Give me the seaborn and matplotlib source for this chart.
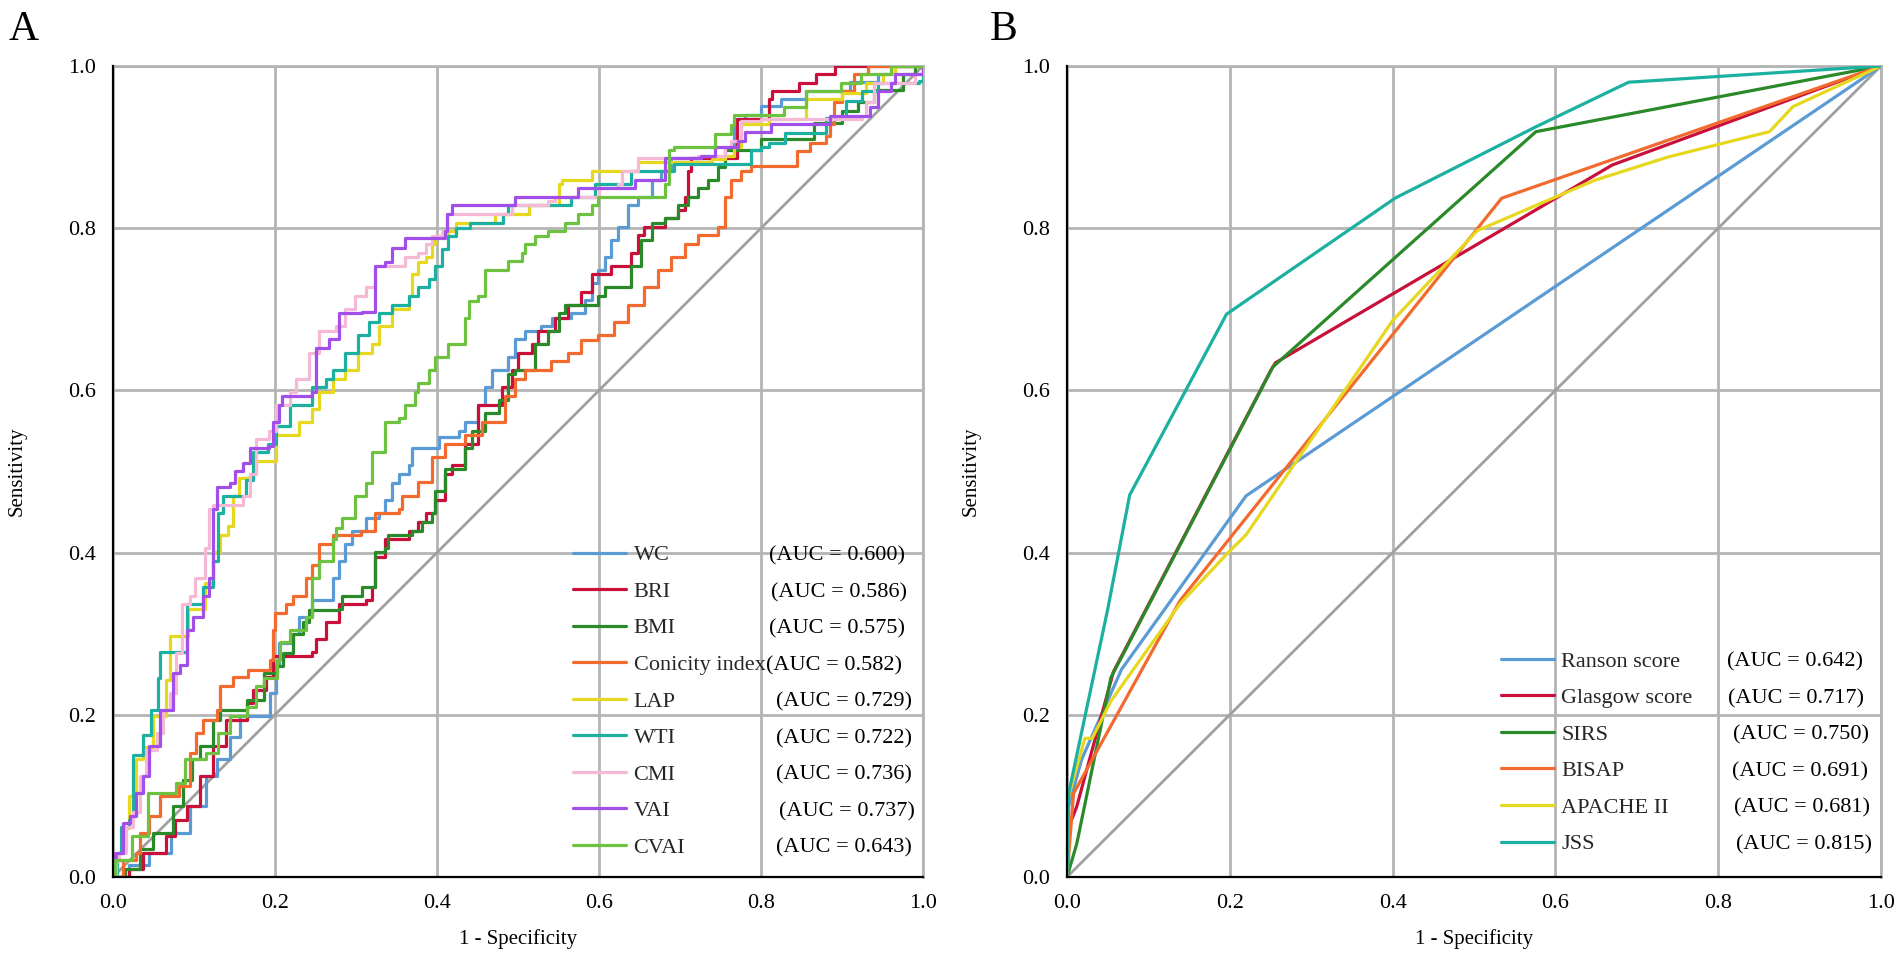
import matplotlib
matplotlib.use("Agg")
import matplotlib.pyplot as plt
import seaborn as sns
import pandas as pd

# ---------------- Panel A data ----------------
A_NAMES = ["WC", "BRI", "BMI", "Conicity index", "LAP", "WTI", "CMI", "VAI", "CVAI"]
A_AUC = ["(AUC = 0.600)", "(AUC = 0.586)", "(AUC = 0.575)", "(AUC = 0.582)", "(AUC = 0.729)",
         "(AUC = 0.722)", "(AUC = 0.736)", "(AUC = 0.737)", "(AUC = 0.643)"]
A_COLORS = ["#5B9BD5", "#C8103A", "#2A8A2A", "#F26A2E", "#E6D81E", "#1BB0A0", "#F5B8D5", "#A14FE8", "#6DC23F"]

WC_FPR = [0, 0.02, 0.045, 0.072, 0.095, 0.115, 0.128, 0.144, 0.157, 0.194, 0.201, 0.205, 0.222, 0.230, 0.246,
          0.271, 0.279, 0.287, 0.295, 0.312, 0.328, 0.336, 0.344, 0.353, 0.365, 0.369, 0.402, 0.427, 0.435,
          0.451, 0.459, 0.468, 0.488, 0.496, 0.509, 0.529, 0.542, 0.566, 0.583, 0.591, 0.599, 0.607, 0.615,
          0.624, 0.636, 0.648, 0.665, 0.677, 0.689, 0.767, 0.780, 0.800, 0.825, 0.855, 0.910, 0.945, 0.965, 1.0]
WC_TPR = [0, 0.015, 0.030, 0.054, 0.087, 0.124, 0.145, 0.173, 0.198, 0.227, 0.262, 0.289, 0.300, 0.320, 0.342,
          0.369, 0.390, 0.410, 0.427, 0.443, 0.449, 0.465, 0.486, 0.497, 0.508, 0.529, 0.542, 0.550, 0.561,
          0.582, 0.604, 0.625, 0.641, 0.663, 0.673, 0.679, 0.689, 0.695, 0.711, 0.732, 0.748, 0.764, 0.786,
          0.801, 0.828, 0.839, 0.860, 0.871, 0.887, 0.935, 0.940, 0.951, 0.959, 0.969, 0.980, 0.990, 1.0, 1.0]

BRI_FPR = [0, 0.020, 0.037, 0.066, 0.076, 0.091, 0.107, 0.124, 0.140, 0.165, 0.173, 0.189, 0.197, 0.246, 0.250,
           0.263, 0.279, 0.312, 0.320, 0.324, 0.336, 0.365, 0.377, 0.386, 0.398, 0.410, 0.418, 0.435, 0.451,
           0.480, 0.492, 0.500, 0.517, 0.525, 0.546, 0.562, 0.578, 0.591, 0.615, 0.640, 0.648, 0.656, 0.681,
           0.697, 0.706, 0.710, 0.714, 0.770, 0.810, 0.814, 0.847, 0.868, 0.891, 1.0]
BRI_TPR = [0, 0.010, 0.030, 0.050, 0.070, 0.087, 0.124, 0.161, 0.194, 0.214, 0.230, 0.246, 0.273, 0.278, 0.294,
           0.315, 0.337, 0.342, 0.358, 0.395, 0.417, 0.427, 0.438, 0.449, 0.465, 0.497, 0.508, 0.534, 0.582,
           0.604, 0.625, 0.646, 0.657, 0.673, 0.689, 0.705, 0.721, 0.743, 0.754, 0.770, 0.791, 0.801, 0.812,
           0.823, 0.839, 0.871, 0.887, 0.935, 0.959, 0.969, 0.979, 0.990, 1.0, 1.0]

BMI_FPR = [0, 0.015, 0.033, 0.049, 0.074, 0.087, 0.097, 0.107, 0.124, 0.132, 0.165, 0.186, 0.202, 0.210, 0.222,
           0.234, 0.242, 0.279, 0.283, 0.308, 0.324, 0.336, 0.340, 0.369, 0.381, 0.394, 0.398, 0.410, 0.435,
           0.443, 0.459, 0.476, 0.488, 0.496, 0.521, 0.537, 0.550, 0.558, 0.599, 0.607, 0.640, 0.652, 0.665,
           0.681, 0.697, 0.710, 0.722, 0.734, 0.747, 0.755, 0.800, 0.865, 0.900, 0.920, 0.940, 0.975, 0.990, 1.0]
BMI_TPR = [0, 0.010, 0.034, 0.054, 0.087, 0.120, 0.145, 0.161, 0.194, 0.206, 0.218, 0.251, 0.260, 0.276, 0.300,
           0.315, 0.329, 0.331, 0.347, 0.358, 0.401, 0.406, 0.422, 0.427, 0.438, 0.449, 0.476, 0.503, 0.529,
           0.550, 0.572, 0.588, 0.620, 0.625, 0.657, 0.673, 0.695, 0.705, 0.716, 0.727, 0.754, 0.786, 0.806,
           0.812, 0.828, 0.839, 0.849, 0.860, 0.876, 0.897, 0.910, 0.930, 0.945, 0.955, 0.970, 0.990, 1.0, 1.0]

CON_FPR = [0, 0.010, 0.012, 0.029, 0.033, 0.045, 0.058, 0.082, 0.095, 0.103, 0.111, 0.128, 0.132, 0.148, 0.167,
           0.194, 0.198, 0.200, 0.214, 0.222, 0.238, 0.246, 0.254, 0.271, 0.306, 0.324, 0.353, 0.357, 0.377,
           0.394, 0.410, 0.435, 0.455, 0.484, 0.496, 0.509, 0.541, 0.562, 0.578, 0.599, 0.619, 0.636, 0.656,
           0.673, 0.689, 0.706, 0.722, 0.747, 0.755, 0.763, 0.775, 0.788, 0.845, 0.860, 0.880, 0.885, 0.890,
           0.900, 0.915, 0.932, 1.0]
CON_TPR = [0, 0.0, 0.021, 0.030, 0.054, 0.075, 0.100, 0.112, 0.153, 0.177, 0.194, 0.206, 0.235, 0.247, 0.255,
           0.268, 0.305, 0.326, 0.337, 0.347, 0.369, 0.385, 0.410, 0.422, 0.427, 0.449, 0.454, 0.470, 0.487,
           0.518, 0.534, 0.545, 0.561, 0.593, 0.614, 0.625, 0.636, 0.646, 0.662, 0.668, 0.684, 0.705, 0.727,
           0.748, 0.764, 0.780, 0.791, 0.801, 0.839, 0.860, 0.871, 0.877, 0.895, 0.905, 0.914, 0.928, 0.955,
           0.969, 0.990, 1.0, 1.0]

LAP_FPR = [0, 0.004, 0.012, 0.020, 0.029, 0.037, 0.049, 0.066, 0.070, 0.093, 0.113, 0.124, 0.132, 0.142, 0.148,
           0.156, 0.169, 0.177, 0.201, 0.230, 0.246, 0.254, 0.271, 0.287, 0.303, 0.320, 0.328, 0.344, 0.365,
           0.369, 0.377, 0.386, 0.394, 0.398, 0.414, 0.423, 0.472, 0.513, 0.550, 0.554, 0.591, 0.648, 0.740,
           0.755, 0.767, 0.775, 0.810, 0.855, 0.900, 0.930, 0.950, 0.965, 1.0]
LAP_TPR = [0, 0.030, 0.060, 0.100, 0.145, 0.160, 0.198, 0.243, 0.297, 0.331, 0.363, 0.401, 0.422, 0.433, 0.470,
           0.492, 0.497, 0.513, 0.545, 0.561, 0.577, 0.598, 0.614, 0.625, 0.646, 0.657, 0.679, 0.700, 0.716,
           0.743, 0.758, 0.764, 0.780, 0.790, 0.796, 0.806, 0.817, 0.828, 0.855, 0.860, 0.871, 0.882, 0.885,
           0.889, 0.900, 0.929, 0.935, 0.959, 0.967, 0.979, 0.990, 1.0, 1.0]

WTI_FPR = [0, 0.005, 0.010, 0.020, 0.025, 0.037, 0.047, 0.056, 0.058, 0.091, 0.111, 0.124, 0.130, 0.136, 0.164,
           0.173, 0.191, 0.201, 0.218, 0.246, 0.263, 0.271, 0.287, 0.303, 0.316, 0.328, 0.344, 0.365, 0.377,
           0.390, 0.398, 0.406, 0.414, 0.423, 0.441, 0.482, 0.488, 0.566, 0.595, 0.640, 0.693, 0.788, 0.800,
           0.810, 0.830, 0.880, 0.905, 0.925, 0.945, 0.995, 1.0]
WTI_TPR = [0, 0.030, 0.062, 0.070, 0.150, 0.175, 0.206, 0.245, 0.278, 0.337, 0.358, 0.390, 0.449, 0.470, 0.490,
           0.524, 0.534, 0.556, 0.582, 0.604, 0.614, 0.625, 0.646, 0.668, 0.684, 0.695, 0.705, 0.716, 0.727,
           0.737, 0.753, 0.774, 0.790, 0.800, 0.806, 0.817, 0.828, 0.839, 0.855, 0.871, 0.879, 0.897, 0.900,
           0.905, 0.918, 0.936, 0.957, 0.969, 0.979, 0.981, 1.0]

CMI_FPR = [0, 0.004, 0.008, 0.016, 0.025, 0.033, 0.041, 0.054, 0.062, 0.070, 0.078, 0.085, 0.095, 0.101, 0.113,
           0.119, 0.124, 0.160, 0.169, 0.177, 0.193, 0.201, 0.218, 0.226, 0.242, 0.254, 0.275, 0.287, 0.299,
           0.312, 0.324, 0.361, 0.377, 0.386, 0.394, 0.406, 0.412, 0.492, 0.537, 0.546, 0.600, 0.624, 0.628,
           0.648, 0.722, 0.755, 0.763, 0.775, 0.800, 0.925, 0.930, 0.940, 0.990, 1.0]
CMI_TPR = [0, 0.020, 0.030, 0.062, 0.080, 0.124, 0.157, 0.177, 0.206, 0.227, 0.276, 0.337, 0.347, 0.369, 0.406,
           0.454, 0.459, 0.470, 0.497, 0.540, 0.550, 0.582, 0.598, 0.614, 0.646, 0.673, 0.679, 0.700, 0.716,
           0.727, 0.753, 0.764, 0.769, 0.780, 0.790, 0.796, 0.817, 0.828, 0.833, 0.839, 0.850, 0.855, 0.871,
           0.887, 0.889, 0.900, 0.908, 0.932, 0.935, 0.938, 0.955, 0.979, 0.990, 1.0]

VAI_FPR = [0, 0.002, 0.012, 0.021, 0.029, 0.037, 0.045, 0.058, 0.074, 0.083, 0.091, 0.099, 0.111, 0.119, 0.124,
           0.128, 0.144, 0.150, 0.160, 0.169, 0.193, 0.197, 0.205, 0.209, 0.246, 0.250, 0.267, 0.279, 0.308,
           0.324, 0.336, 0.344, 0.361, 0.410, 0.412, 0.418, 0.496, 0.574, 0.644, 0.681, 0.726, 0.743, 0.771,
           0.780, 0.812, 0.885, 0.935, 0.945, 0.960, 0.965, 0.995, 1.0]
VAI_TPR = [0, 0.030, 0.066, 0.075, 0.103, 0.124, 0.161, 0.206, 0.251, 0.262, 0.305, 0.320, 0.347, 0.369, 0.454,
           0.481, 0.486, 0.500, 0.510, 0.529, 0.532, 0.561, 0.582, 0.593, 0.598, 0.652, 0.663, 0.695, 0.697,
           0.753, 0.758, 0.775, 0.788, 0.796, 0.817, 0.828, 0.839, 0.849, 0.860, 0.887, 0.889, 0.900, 0.908,
           0.919, 0.928, 0.938, 0.949, 0.969, 0.979, 0.990, 0.990, 1.0]

CVAI_FPR = [0, 0.002, 0.023, 0.043, 0.078, 0.089, 0.115, 0.130, 0.144, 0.165, 0.177, 0.186, 0.202, 0.206, 0.219,
            0.238, 0.246, 0.254, 0.271, 0.275, 0.283, 0.299, 0.312, 0.320, 0.336, 0.353, 0.361, 0.373, 0.377,
            0.390, 0.398, 0.414, 0.435, 0.439, 0.451, 0.459, 0.488, 0.505, 0.509, 0.521, 0.537, 0.558, 0.574,
            0.591, 0.599, 0.681, 0.687, 0.693, 0.743, 0.763, 0.767, 0.829, 0.856, 0.899, 0.924, 0.961, 1.0]
CVAI_TPR = [0, 0.021, 0.050, 0.103, 0.116, 0.145, 0.153, 0.177, 0.198, 0.210, 0.235, 0.245, 0.268, 0.290, 0.305,
            0.320, 0.369, 0.390, 0.417, 0.430, 0.443, 0.470, 0.486, 0.524, 0.561, 0.566, 0.582, 0.598, 0.609,
            0.625, 0.641, 0.657, 0.689, 0.710, 0.716, 0.748, 0.759, 0.770, 0.780, 0.790, 0.796, 0.806, 0.817,
            0.828, 0.839, 0.855, 0.897, 0.900, 0.916, 0.927, 0.940, 0.949, 0.969, 0.979, 0.990, 1.0, 1.0]

A_FPR = [WC_FPR, BRI_FPR, BMI_FPR, CON_FPR, LAP_FPR, WTI_FPR, CMI_FPR, VAI_FPR, CVAI_FPR]
A_TPR = [WC_TPR, BRI_TPR, BMI_TPR, CON_TPR, LAP_TPR, WTI_TPR, CMI_TPR, VAI_TPR, CVAI_TPR]

# ---------------- Panel B data ----------------
B_NAMES = ["Ranson score", "Glasgow score", "SIRS", "BISAP", "APACHE II", "JSS"]
B_AUC = ["(AUC = 0.642)", "(AUC = 0.717)", "(AUC = 0.750)", "(AUC = 0.691)", "(AUC = 0.681)", "(AUC = 0.815)"]
B_COLORS = ["#5B9BD5", "#C8103A", "#2A8A2A", "#F26A2E", "#E6D81E", "#1BB0A0"]

RANSON_FPR = [0, 0.002, 0.018, 0.067, 0.220, 1.0]
RANSON_TPR = [0, 0.087, 0.145, 0.256, 0.470, 1.0]
GLASGOW_FPR = [0, 0.002, 0.012, 0.057, 0.250, 0.256, 0.670, 1.0]
GLASGOW_TPR = [0, 0.061, 0.087, 0.253, 0.624, 0.634, 0.878, 1.0]
SIRS_FPR = [0, 0.012, 0.054, 0.253, 0.576, 1.0]
SIRS_TPR = [0, 0.041, 0.246, 0.629, 0.919, 1.0]
BISAP_FPR = [0, 0.008, 0.139, 0.534, 1.0]
BISAP_TPR = [0, 0.103, 0.341, 0.837, 1.0]
APACHE_FPR = [0, 0.002, 0.022, 0.031, 0.054, 0.139, 0.198, 0.220, 0.400, 0.504, 0.648, 0.739, 0.863, 0.892, 1.0]
APACHE_TPR = [0, 0.100, 0.171, 0.171, 0.217, 0.337, 0.400, 0.422, 0.686, 0.797, 0.859, 0.888, 0.919, 0.950, 1.0]
JSS_FPR = [0, 0.002, 0.050, 0.077, 0.196, 0.403, 0.576, 0.690, 1.0]
JSS_TPR = [0, 0.103, 0.330, 0.471, 0.694, 0.837, 0.925, 0.980, 1.0]

B_FPR = [RANSON_FPR, GLASGOW_FPR, SIRS_FPR, BISAP_FPR, APACHE_FPR, JSS_FPR]
B_TPR = [RANSON_TPR, GLASGOW_TPR, SIRS_TPR, BISAP_TPR, APACHE_TPR, JSS_TPR]

TICKS = [0.0, 0.2, 0.4, 0.6, 0.8, 1.0]
TICK_LABELS = ["0.0", "0.2", "0.4", "0.6", "0.8", "1.0"]

# ---------------- style ----------------
sns.set_theme(style="whitegrid")
plt.rcParams["font.family"] = ["Liberation Serif", "DejaVu Serif"]

GRID = "#b4b4b4"
FS = 16
LABEL_FS = 15

fig = plt.figure(figsize=(19.02, 9.57), dpi=100)
axA = fig.add_axes([113 / 1902, 1 - 877 / 957, 810 / 1902, 811 / 957])
axB = fig.add_axes([1067 / 1902, 1 - 877 / 957, 814 / 1902, 811 / 957])


def style_axes(ax):
    ax.set_facecolor("white")
    ax.set_xlim(0, 1)
    ax.set_ylim(0, 1)
    ax.set_xticks(TICKS)
    ax.set_yticks(TICKS)
    ax.set_xticklabels(TICK_LABELS)
    ax.set_yticklabels(TICK_LABELS)
    ax.grid(True, color=GRID, linewidth=2.0)
    ax.set_axisbelow(True)
    for s in ["left", "bottom"]:
        ax.spines[s].set_color("black")
        ax.spines[s].set_linewidth(1.6)
        ax.spines[s].set_zorder(5)
    for s in ["top", "right"]:
        ax.spines[s].set_color(GRID)
        ax.spines[s].set_linewidth(2.0)
    ax.tick_params(axis="both", length=0, labelsize=FS, colors="black")
    ax.tick_params(axis="y", pad=12)
    ax.tick_params(axis="x", pad=12)
    ax.plot([0, 1], [0, 1], color="#a0a0a0", linewidth=2.0, zorder=1.5)


def set_labels(ax):
    ax.set_xlabel("1 - Specificity", fontsize=LABEL_FS, labelpad=12, color="black")
    ax.set_ylabel("Sensitivity", fontsize=LABEL_FS, labelpad=30, color="black")


def add_legend(ax, lines, names, aucs, hx, top_center, auc_x):
    leg = ax.legend(lines, names, loc="upper left", bbox_to_anchor=(hx, top_center + 0.02),
                    frameon=False, fontsize=FS, handlelength=2.4, handletextpad=0.32,
                    labelspacing=0.72, borderpad=0, borderaxespad=0)
    fig.canvas.draw()
    inv = ax.transAxes.inverted()
    texts = leg.get_texts()
    bb = texts[0].get_window_extent()
    cy = inv.transform((0, (bb.y0 + bb.y1) / 2))[1]
    leg.set_bbox_to_anchor((hx, top_center + 0.02 + (top_center - cy)), transform=ax.transAxes)
    fig.canvas.draw()
    for t, auc, x in zip(leg.get_texts(), aucs, auc_x):
        b = t.get_window_extent()
        y = inv.transform((0, (b.y0 + b.y1) / 2))[1]
        ax.text(x, y, auc, transform=ax.transAxes, fontsize=FS, va="center", ha="left",
                color="black", zorder=6)


# ---------------- Panel A ----------------
style_axes(axA)
for name, fpr, tpr, c in zip(A_NAMES, A_FPR, A_TPR, A_COLORS):
    df = pd.DataFrame({"fpr": fpr, "tpr": tpr})
    sns.lineplot(data=df, x="fpr", y="tpr", ax=axA, color=c, linewidth=2.3, estimator=None,
                 sort=False, drawstyle="steps-post", legend=False, zorder=3)
set_labels(axA)
linesA = axA.get_lines()[1:]
add_legend(axA, linesA, A_NAMES, A_AUC, 0.568, 0.396,
           [0.810, 0.812, 0.810, 0.806, 0.818, 0.818, 0.818, 0.822, 0.819])

# ---------------- Panel B ----------------
style_axes(axB)
for name, fpr, tpr, c in zip(B_NAMES, B_FPR, B_TPR, B_COLORS):
    df = pd.DataFrame({"fpr": fpr, "tpr": tpr})
    sns.lineplot(data=df, x="fpr", y="tpr", ax=axB, color=c, linewidth=2.3, estimator=None,
                 sort=False, legend=False, zorder=3)
set_labels(axB)
linesB = axB.get_lines()[1:]
add_legend(axB, linesB, B_NAMES, B_AUC, 0.533, 0.265,
           [0.811, 0.812, 0.818, 0.817, 0.820, 0.822])

fig.text(9 / 1902, 1 - 40 / 957, "A", fontsize=30, color="black", ha="left", va="baseline")
fig.text(990 / 1902, 1 - 40 / 957, "B", fontsize=30, color="black", ha="left", va="baseline")

fig.savefig("out.png", dpi=100, facecolor="white")
